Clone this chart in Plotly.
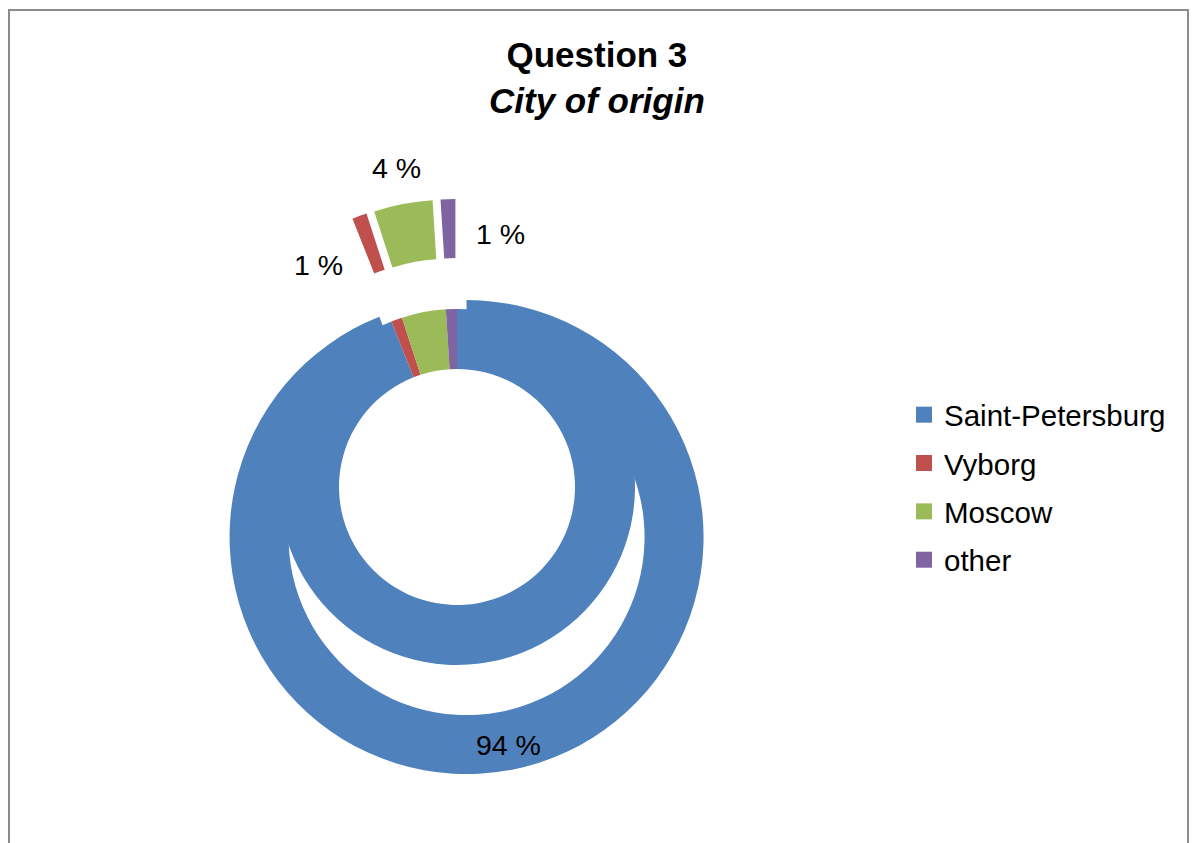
import plotly.graph_objects as go

# Survey answers: city of origin, share of respondents in percent
cities = ["Saint-Petersburg", "Vyborg", "Moscow", "other"]
shares = [94, 1, 4, 1]
colors = ["#4F81BD", "#C0504D", "#9BBB59", "#8064A2"]

W, H = 1193, 843
FONT = "Liberation Sans, Arial, sans-serif"

# Ring geometry in pixels
cx, cy = 457, 487          # common centre of both rings
inner_r, inner_hole = 178, 118
outer_r, outer_hole = 237, 178
explode = 51               # radial offset of each outer slice

def px_x(v):
    return v / W

def px_y(v):
    return 1 - v / H

labels_text = [f"{v} %" for v in shares]

fig = go.Figure()

# Outer ring, every slice exploded
pull = explode / outer_r
half = outer_r * (1 + pull)
fig.add_trace(go.Pie(
    labels=cities, values=shares, sort=False, direction="clockwise", rotation=0,
    hole=outer_hole / outer_r, pull=[pull] * len(shares),
    marker=dict(colors=colors, line=dict(width=0)),
    textinfo="none",
    domain=dict(x=[px_x(cx - half), px_x(cx + half)],
                y=[px_y(cy + half), px_y(cy - half)]),
    showlegend=False, hoverinfo="skip",
))

# Inner ring
fig.add_trace(go.Pie(
    labels=cities, values=shares, sort=False, direction="clockwise", rotation=0,
    hole=inner_hole / inner_r,
    marker=dict(colors=colors, line=dict(width=0)),
    textinfo="none",
    domain=dict(x=[px_x(cx - inner_r), px_x(cx + inner_r)],
                y=[px_y(cy + inner_r), px_y(cy - inner_r)]),
    showlegend=False, hoverinfo="skip",
))

# Legend entries
for name, col in zip(cities, colors):
    fig.add_trace(go.Scatter(
        x=[None], y=[None], mode="markers", name=name, legendgroup=name,
        marker=dict(symbol="square", size=16, color=col),
    ))

# Data labels of the outer ring
label_pos = {0: (508, 745), 1: (318, 265), 2: (396, 168), 3: (500, 234)}
annotations = [
    dict(text="<b>Question 3</b><br><b><i>City of origin</i></b>",
         x=0.5, y=px_y(33), xref="paper", yref="paper",
         xanchor="center", yanchor="top", showarrow=False,
         font=dict(family=FONT, size=35, color="black")),
]
for i, (lx, ly) in label_pos.items():
    annotations.append(dict(
        text=labels_text[i], x=px_x(lx), y=px_y(ly), xref="paper", yref="paper",
        xanchor="center", yanchor="middle", showarrow=False,
        font=dict(family=FONT, size=28.5, color="black")))

fig.update_layout(
    width=W, height=H,
    margin=dict(l=0, r=0, t=0, b=0),
    paper_bgcolor="white", plot_bgcolor="white",
    xaxis=dict(visible=False), yaxis=dict(visible=False),
    annotations=annotations,
    legend=dict(x=px_x(904), y=px_y(389), xanchor="left", yanchor="top",
                font=dict(family=FONT, size=29.5, color="black"),
                tracegroupgap=7, bgcolor="rgba(0,0,0,0)", borderwidth=0,
                itemclick=False, itemdoubleclick=False),
    shapes=[dict(type="rect", xref="paper", yref="paper",
                 x0=px_x(9), x1=px_x(1188), y0=-0.05, y1=px_y(10),
                 line=dict(color="#8C8C8C", width=2), fillcolor="rgba(0,0,0,0)")],
)

fig.write_html("out.html")
